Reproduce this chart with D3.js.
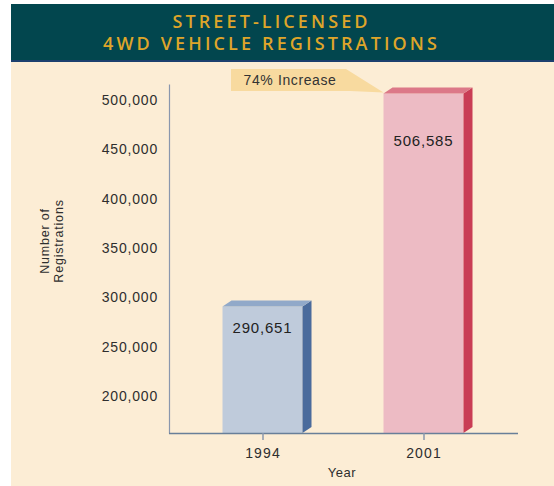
<!DOCTYPE html>
<html>
<head>
<meta charset="utf-8">
<script src="https://cdn.jsdelivr.net/npm/d3@7"></script>
<style>
  body { margin: 0; background: #fff; }
  svg { display: block; }
</style>
</head>
<body>
<div id="chart"></div>
<script>
// data
var years = ["1994", "2001"];
var registrations = [290651, 506585];
var valueLabels = ["290,651", "506,585"];
var yTicks = [200000, 250000, 300000, 350000, 400000, 450000, 500000];
var titleLines = ["STREET-LICENSED", "4WD VEHICLE REGISTRATIONS"];
var calloutText = "74% Increase";

var w = 554, h = 486;
var font = "'Liberation Sans', Arial, sans-serif";
var svg = d3.select("#chart").append("svg")
    .attr("width", w)
    .attr("height", h);

// background panels
svg.append("rect").attr("x", 11).attr("y", 60).attr("width", w - 11).attr("height", h - 60)
    .attr("fill", "#fcedd5");
svg.append("rect").attr("x", 11).attr("y", 4).attr("width", w - 11).attr("height", 57)
    .attr("fill", "#02464e");
svg.append("rect").attr("x", 11).attr("y", 60).attr("width", w - 11).attr("height", 2)
    .attr("fill", "#1c3f6e");

var titleWidths = [195, 334];
svg.selectAll("text.title")
    .data(titleLines)
    .enter()
    .append("text")
    .attr("class", "title")
    .attr("x", 270)
    .attr("y", function(d, i) { return 28 + i * 22; })
    .attr("text-anchor", "middle")
    .attr("font-family", "'Open Sans', sans-serif")
    .attr("font-weight", 600)
    .attr("font-size", "18px")
    .attr("textLength", function(d, i) { return titleWidths[i]; })
    .attr("lengthAdjust", "spacing")
    .attr("fill", "#dea52a")
    .text(function(d) { return d; });

// scales
var y = d3.scaleLinear().domain([162500, 516216]).range([433, 84]);
var x = d3.scalePoint().domain(years).range([262.5, 423.5]);
var barW = 80, dx = 9, dy = 6;

// y axis
var yAxis = d3.axisLeft(y).tickValues(yTicks).tickSize(0).tickPadding(11)
    .tickFormat(d3.format(","));
var gy = svg.append("g").attr("transform", "translate(169,0)").call(yAxis);
gy.select(".domain").attr("stroke", "#8a97ad").attr("stroke-width", 1.2);
gy.selectAll("text")
    .attr("font-family", font)
    .attr("font-size", "14px")
    .attr("letter-spacing", "0.8px")
    .attr("fill", "#2e2e2e");

// bars
var colors = [
    { front: "#bfcbdb", side: "#4a6b9c", top: "#91a9c9" },
    { front: "#edbbc4", side: "#c93d55", top: "#dc7888" }
];
var labelOffsets = [26, 52];

var bars = svg.selectAll("g.bar")
    .data(registrations)
    .enter()
    .append("g")
    .attr("class", "bar");

bars.append("rect")
    .attr("x", function(d, i) { return x(years[i]) - barW / 2; })
    .attr("y", function(d) { return y(d); })
    .attr("width", barW)
    .attr("height", function(d) { return y.range()[0] - y(d); })
    .attr("fill", function(d, i) { return colors[i].front; });

bars.append("path")
    .attr("d", function(d, i) {
        var x1 = x(years[i]) + barW / 2, t = y(d), b = y.range()[0];
        return "M" + x1 + "," + t + "L" + (x1 + dx) + "," + (t - dy) +
               "L" + (x1 + dx) + "," + (b - dy) + "L" + x1 + "," + b + "Z";
    })
    .attr("fill", function(d, i) { return colors[i].side; });

bars.append("path")
    .attr("d", function(d, i) {
        var x0 = x(years[i]) - barW / 2, t = y(d);
        return "M" + x0 + "," + t + "L" + (x0 + dx) + "," + (t - dy) +
               "L" + (x0 + barW + dx) + "," + (t - dy) + "L" + (x0 + barW) + "," + t + "Z";
    })
    .attr("fill", function(d, i) { return colors[i].top; });

bars.append("text")
    .attr("x", function(d, i) { return x(years[i]); })
    .attr("y", function(d, i) { return y(d) + labelOffsets[i]; })
    .attr("text-anchor", "middle")
    .attr("font-family", font)
    .attr("font-size", "15px")
    .attr("letter-spacing", "0.8px")
    .attr("fill", "#222")
    .text(function(d, i) { return valueLabels[i]; });

// x axis
var xAxis = d3.axisBottom(x).tickSize(7).tickPadding(8);
var gx = svg.append("g").attr("transform", "translate(0,433)").call(xAxis);
gx.select(".domain").attr("d", "M169,0.5H518").attr("stroke", "#687f99").attr("stroke-width", 1.3);
gx.selectAll(".tick line").attr("stroke", "#8a97ad").attr("stroke-width", 1.5);
gx.selectAll("text")
    .attr("font-family", font)
    .attr("font-size", "14px")
    .attr("letter-spacing", "1.1px")
    .attr("fill", "#2e2e2e");

svg.append("text")
    .attr("x", 342).attr("y", 477)
    .attr("text-anchor", "middle")
    .attr("font-family", font)
    .attr("font-size", "13px")
    .attr("letter-spacing", "0.5px")
    .attr("fill", "#2e2e2e")
    .text("Year");

// y axis title
svg.append("text")
    .attr("transform", "translate(49,241) rotate(-90)")
    .attr("text-anchor", "middle")
    .attr("font-family", font)
    .attr("font-size", "12.5px")
    .attr("letter-spacing", "0.8px")
    .attr("fill", "#2e2e2e")
    .selectAll("tspan")
    .data(["Number of", "Registrations"])
    .enter()
    .append("tspan")
    .attr("x", 0)
    .attr("dy", function(d, i) { return i ? 14 : 0; })
    .text(function(d) { return d; });

// callout
var tipX = x(years[1]) - barW / 2, tipY = y(registrations[1]) - 1;
svg.append("path")
    .attr("d", "M231,69H346L" + tipX + "," + tipY + "L350,91H231Z")
    .attr("fill", "#f8da9f");
svg.append("text")
    .attr("x", 290).attr("y", 85)
    .attr("text-anchor", "middle")
    .attr("font-family", font)
    .attr("font-size", "14px")
    .attr("letter-spacing", "0.6px")
    .attr("fill", "#333")
    .text(calloutText);
</script>
</body>
</html>
